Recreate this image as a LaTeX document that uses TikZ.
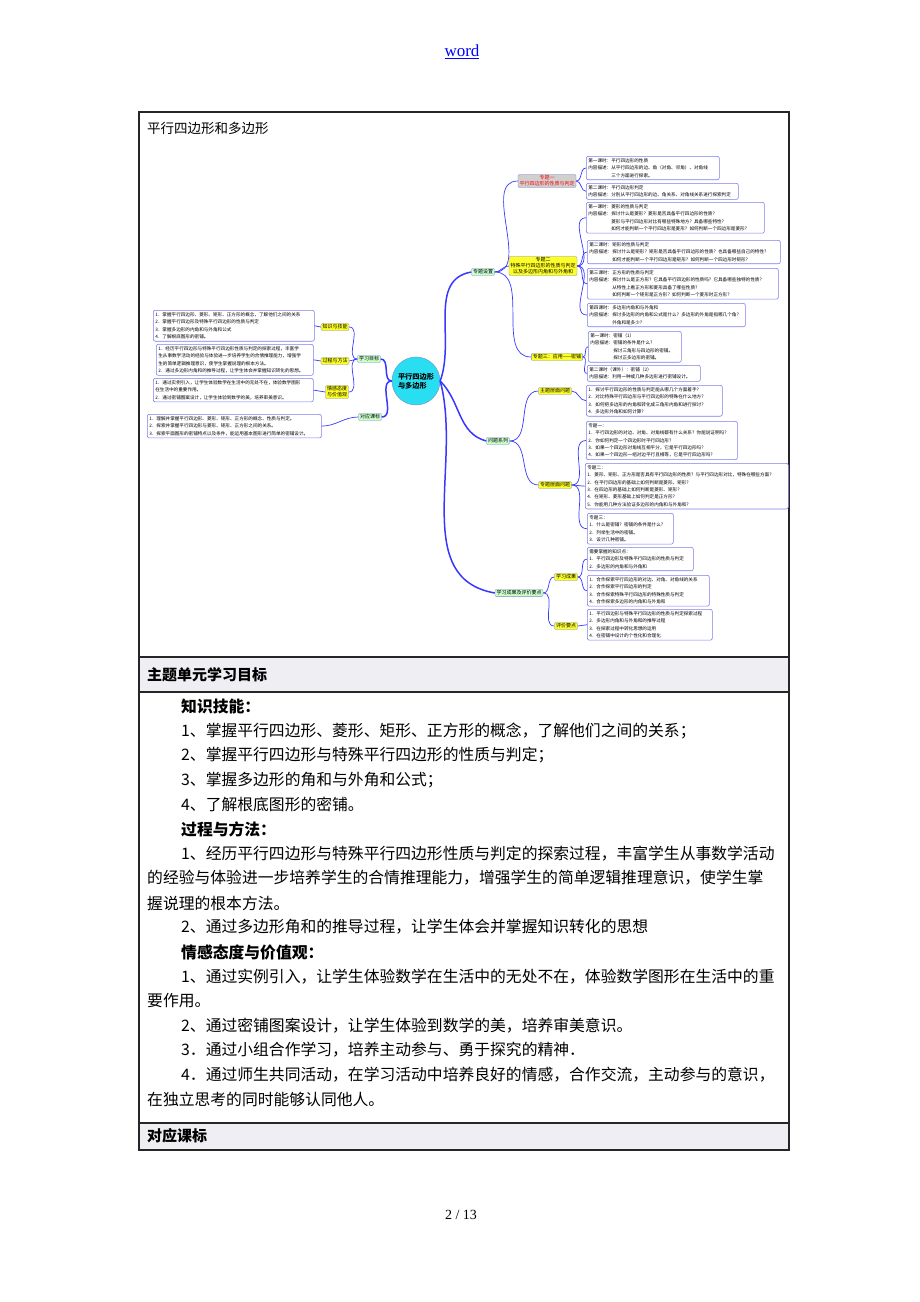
\documentclass[tikz,border=0pt]{standalone}
\usepackage{fontspec}
\setmainfont{Liberation Serif}
\newfontfamily\cjk{Noto Sans CJK SC}
\usetikzlibrary{positioning}

\definecolor{pageblue}{RGB}{0,0,255}
\definecolor{linkblue}{RGB}{55,55,255}
\definecolor{boxedge}{RGB}{125,125,240}
\definecolor{nodeedge}{RGB}{120,140,200}
\definecolor{leafgreen}{RGB}{204,255,204}
\definecolor{topicyellow}{RGB}{255,255,40}
\definecolor{topicgrey}{RGB}{208,208,208}
\definecolor{rootcyan}{RGB}{40,222,240}
\definecolor{rowshade}{RGB}{238,238,243}

% stretch one line of body text to a given width
\newcommand{\spreadline}[2]{{\XeTeXlinebreaklocale "zh"\XeTeXlinebreakskip=0pt plus 1pt\relax\makebox[#1][s]{#2}}}

\tikzset{
  mapnode/.style={draw=nodeedge, line width=0.4pt, rounded corners=1.2pt, inner xsep=1.5pt, inner ysep=1.2pt, align=center, font=\cjk\fontsize{5}{6}\selectfont},
  greennode/.style={mapnode, fill=leafgreen},
  yellownode/.style={mapnode, fill=topicyellow},
  greynode/.style={mapnode, fill=topicgrey, text=red},
  rootnode/.style={circle, draw=nodeedge, fill=rootcyan, minimum size=48pt, inner sep=0pt, align=left, font=\cjk\bfseries\fontsize{7.2}{9}\selectfont},
  leafbox/.style={draw=boxedge, line width=0.6pt, rounded corners=2pt, fill=white, inner xsep=2pt, inner ysep=2.2pt, anchor=north west, align=left, text width=#1, font=\cjk\fontsize{4.6}{7.4}\selectfont},
  maplink/.style={linkblue, line width=1.5pt},
  twig/.style={linkblue, line width=0.7pt},
  bodyline/.style={anchor=west, inner sep=0pt, font=\cjk\fontsize{15.8}{18}\selectfont},
  bodyhead/.style={bodyline, font=\cjk\bfseries\fontsize{15.8}{18}\selectfont},
  gridline/.style={line width=1.4pt, black!85},
}

\begin{document}
\begin{tikzpicture}[x=1pt, y=-1pt]
    \useasboundingbox (0,0) rectangle (920,1302);

    % page header and footer
    \node[font=\fontsize{17}{20}\selectfont, text=pageblue] (hdr) at (462,52) {\underline{word}};
    \node[font=\fontsize{14}{16}\selectfont] (pgno) at (461,1215) {2 / 13};

    % table
    \fill[rowshade] (139,657) rectangle (789,692);
    \fill[rowshade] (139,1123) rectangle (789,1150);
    \draw[gridline] (139,112) rectangle (789,1150);
    \foreach \y in {657,692,1123} \draw[gridline] (139,\y) -- (789,\y);

    \node[bodyline, font=\cjk\fontsize{13.5}{15}\selectfont] (title) at (147,128) {平行四边形和多边形};
    \node[bodyhead, font=\cjk\bfseries\fontsize{15}{17}\selectfont] (head1) at (147,675) {主题单元学习目标};
    \node[bodyhead, font=\cjk\bfseries\fontsize{15}{17}\selectfont] (head2) at (147,1136) {对应课标};

    % mind map: root and first level
    \node[rootnode] (root) at (416,381) {平行四边形\\与多边形};
    \node[greennode] (goal) at (369,359) {学习目标};
    \node[greennode] (std) at (370,417) {对应课标};
    \node[greennode] (topic) at (483,272) {专题设置};
    \node[greennode] (ques) at (498,441) {问题系列};
    \node[greennode] (eval) at (519,593) {学习成果及评价要点};

    % second level
    \node[yellownode] (kn) at (335,327) {知识与技能};
    \node[yellownode] (pm) at (335,361) {过程与方法};
    \node[yellownode] (em) at (337,392) {情感态度\\与价值观};
    \node[greynode] (t1) at (547,181) {专题一\\平行四边形的性质与判定};
    \node[yellownode] (t2) at (543,266) {专题二\\特殊平行四边形的性质与判定\\以及多边形内角和与外角和};
    \node[yellownode] (t3) at (557,357) {专题三：应用——密铺};
    \node[yellownode] (qmain) at (555,391) {主题层面问题};
    \node[yellownode] (qtopic) at (555,485) {专题层面问题};
    \node[yellownode] (res) at (566,577) {学习成果};
    \node[yellownode] (pts) at (566,626) {评价要点};

    % left leaf boxes
    \node[leafbox=157] (lb1) at (153,310) {1．掌握平行四边形、菱形、矩形、正方形的概念，了解他们之间的关系\\2．掌握平行四边形及特殊平行四边形的性质与判定\\3．掌握多边形的内角和与外角和公式\\4．了解根底图形的密铺。};
    \node[leafbox=153] (lb2) at (156,344) {1．经历平行四边形与特殊平行四边形性质与判定的探索过程，丰富学\\生从事数学活动的经验与体验进一步培养学生的合情推理能力，增强学\\生的简单逻辑推理意识，使学生掌握说理的根本方法。\\2．通过多边形内角和的推导过程，让学生体会并掌握知识转化的思想。};
    \node[leafbox=156] (lb3) at (153,378) {1．通过实例引入，让学生体验数学在生活中的无处不在，体验数学图形\\在生活中的重要作用。\\2．通过密铺图案设计，让学生体验到数学的美，培养审美意识。};
    \node[leafbox=170] (lb4) at (147,414) {1．理解并掌握平行四边形、菱形、矩形、正方形的概念、性质与判定。\\2．探索并掌握平行四边形与菱形、矩形、正方形之间的关系。\\3．探索平面图形的密铺特点以及条件，能运用基本图形进行简单的密铺设计。};

    % right leaf boxes
    \node[leafbox=129] (rb1) at (586,156) {第一课时：平行四边形的性质\\内容描述：从平行四边形的边、角（对角、邻角）、对角线\\\hspace*{5em}三个方面进行探索。};
    \node[leafbox=148] (rb2) at (586,183) {第二课时：平行四边形判定\\内容描述：分别从平行四边形的边、角关系、对角线关系进行探索判定};
    \node[leafbox=174] (rb3) at (586,202) {第一课时：菱形的性质与判定\\内容描述：探讨什么是菱形？菱形是否具备平行四边形的性质？\\\hspace*{5em}菱形与平行四边形对比有哪些特殊地方？具备哪些特性？\\\hspace*{5em}如何才能判断一个平行四边形是菱形？如何判断一个四边形是菱形？};
    \node[leafbox=189] (rb4) at (587,240) {第二课时：矩形的性质与判定\\内容描述：探讨什么是矩形？矩形是否具备平行四边形的性质？也具备哪些自己的特性？\\\hspace*{5em}如何才能判断一个平行四边形是矩形？如何判断一个四边形时矩形？};
    \node[leafbox=187] (rb5) at (587,268) {第三课时：正方形的性质与判定\\内容描述：探讨什么是正方形？它具备平行四边形的性质吗？它具备哪些独特的性质？\\\hspace*{5em}从特性上看正方形和菱形具备了哪些性质？\\\hspace*{5em}如何判断一个矩形是正方形？如何判断一个菱形时正方形？};
    \node[leafbox=154] (rb6) at (587,303) {第四课时：多边形内角和与外角和\\内容描述：探讨多边形的内角和公式是什么？多边形的外角是指哪几个角？\\\hspace*{5em}外角和是多少？};
    \node[leafbox=89] (rb7) at (588,331) {第一课时：密铺（1）\\内容描述：密铺的条件是什么？\\\hspace*{5em}探讨三角形与四边形的密铺。\\\hspace*{5em}探讨正多边形的密铺。};
    \node[leafbox=109] (rb8) at (587,365) {第二课时（课外）：密铺（2）\\内容描述：利用一种或几种多边形进行密铺设计。};
    \node[leafbox=132] (rb9) at (586,385) {1．探讨平行四边形的性质与判定能从哪几个方面着手？\\2．对比特殊平行四边形与平行四边形的特殊在什么地方？\\3．如何把多边形的内角和转化成三角形内角和进行探讨？\\4．多边形外角和如何计算？};
    \node[leafbox=147] (rb10) at (586,421) {专题一：\\1．平行四边形的对边、对角、对角线都有什么关系？你能说证明吗？\\2．你如何判定一个四边形时平行四边形？\\3．如果一个四边形对角线互相平分，它是平行四边形吗？\\4．如果一个四边形一组对边平行且相等，它是平行四边形吗？};
    \node[leafbox=199] (rb11) at (585,463) {专题二：\\1．菱形、矩形、正方形是否具有平行四边形的性质？与平行四边形对比，特殊在哪些方面？\\2．在平行四边形的基础上如何判断是菱形、矩形？\\3．在四边形的基础上如何判断是菱形、矩形？\\4．在矩形、菱形基础上如何判定是正方形？\\5．你能用几种方法验证多边形的内角和与外角和？};
    \node[leafbox=82] (rb12) at (587,513) {专题三：\\1．什么是密铺？密铺的条件是什么？\\2．列举生活中的密铺。\\3．设计几种密铺。};
    \node[leafbox=102] (rb13) at (587,547) {需要掌握的知识点：\\1．平行四边形及特殊平行四边形的性质与判定\\2．多边形的内角和与外角和};
    \node[leafbox=118] (rb14) at (587,575) {1．合作探索平行四边形的对边、对角、对角线的关系\\2．合作探索平行四边形的判定\\3．合作探索特殊平行四边形的特殊性质与判定\\4．合作探索多边形的内角和与外角和};
    \node[leafbox=121] (rb15) at (587,609) {1．平行四边形与特殊平行四边形的性质与判定探索过程\\2．多边形内角和与外角和的推导过程\\3．在探索过程中转化思想的运用\\4．在密铺中设计的个性化和合理化};

    % connectors
    \draw[maplink] (goal.east) to[out=0, in=180] (root.west);
    \draw[maplink] (std.east) to[out=0, in=180] (root.west);
    \draw[maplink] (root.east) to[out=70, in=190] (topic.west);
    \draw[maplink] (root.east) to[out=-45, in=165] (ques.west);
    \draw[maplink] (root.east) to[out=-75, in=170] (eval.west);
    \foreach \k in {kn,pm,em} \draw[twig] (goal.west) to[out=180, in=0] (\k.east);
    \draw[twig] (kn.west) -- (lb1.east);
    \draw[twig] (pm.west) -- (lb2.east);
    \draw[twig] (em.west) -- (lb3.east);
    \draw[twig] (std.west) to[out=180, in=0] (lb4.east);
    \foreach \k in {t1,t2,t3} \draw[twig] (topic.east) to[out=0, in=180] (\k.west);
    \foreach \k in {qmain,qtopic} \draw[twig] (ques.east) to[out=0, in=180] (\k.west);
    \foreach \k in {res,pts} \draw[twig] (eval.east) to[out=0, in=180] (\k.west);
    \foreach \b in {rb1,rb2} \draw[twig] (t1.east) to[out=0, in=180] (\b.west);
    \foreach \b in {rb3,rb4,rb5,rb6} \draw[twig] (t2.east) to[out=0, in=180] (\b.west);
    \foreach \b in {rb7,rb8} \draw[twig] (t3.east) to[out=0, in=180] (\b.west);
    \draw[twig] (qmain.east) to[out=0, in=180] (rb9.west);
    \foreach \b in {rb10,rb11,rb12} \draw[twig] (qtopic.east) to[out=0, in=180] (\b.west);
    \foreach \b in {rb13,rb14} \draw[twig] (res.east) to[out=0, in=180] (\b.west);
    \draw[twig] (pts.east) to[out=0, in=180] (rb15.west);

    % body text of the learning goals
    \node[bodyhead] (kt0) at (181,706) {知识技能：};
    \node[bodyline] (kt1) at (181,731) {1、掌握平行四边形、菱形、矩形、正方形的概念，了解他们之间的关系；};
    \node[bodyline] (kt2) at (181,755) {2、掌握平行四边形与特殊平行四边形的性质与判定；};
    \node[bodyline] (kt3) at (181,780) {3、掌握多边形的角和与外角和公式；};
    \node[bodyline] (kt4) at (181,804) {4、了解根底图形的密铺。};
    \node[bodyhead] (pm0) at (181,829) {过程与方法：};
    \node[bodyline] (pm1) at (181,854) {\spreadline{598pt}{1、经历平行四边形与特殊平行四边形性质与判定的探索过程，丰富学生从事数学活动}};
    \node[bodyline] (pm2) at (147,878) {\spreadline{632pt}{的经验与体验进一步培养学生的合情推理能力，增强学生的简单逻辑推理意识，使学生掌}};
    \node[bodyline] (pm3) at (147,903) {握说理的根本方法。};
    \node[bodyline] (pm4) at (181,927) {2、通过多边形角和的推导过程，让学生体会并掌握知识转化的思想};
    \node[bodyhead] (em0) at (181,952) {情感态度与价值观：};
    \node[bodyline] (em1) at (181,977) {\spreadline{598pt}{1、通过实例引入，让学生体验数学在生活中的无处不在，体验数学图形在生活中的重}};
    \node[bodyline] (em2) at (147,1001) {要作用。};
    \node[bodyline] (em3) at (181,1026) {2、通过密铺图案设计，让学生体验到数学的美，培养审美意识。};
    \node[bodyline] (em4) at (181,1050) {3．通过小组合作学习，培养主动参与、勇于探究的精神．};
    \node[bodyline] (em5) at (181,1075) {\spreadline{598pt}{4．通过师生共同活动，在学习活动中培养良好的情感，合作交流，主动参与的意识，}};
    \node[bodyline] (em6) at (147,1099) {在独立思考的同时能够认同他人。};
\end{tikzpicture}
\end{document}
